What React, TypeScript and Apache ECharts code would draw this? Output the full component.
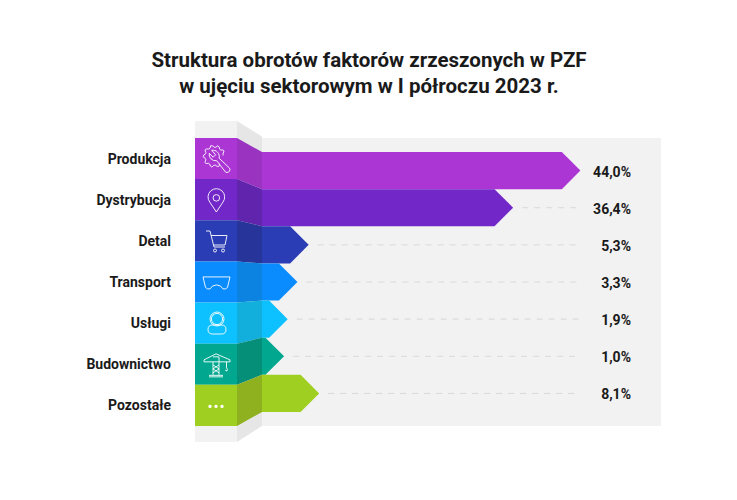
import React, { useEffect, useRef } from "react";
import * as echarts from "echarts";

const titleLines = ["Struktura obrotów faktorów zrzeszonych w PZF", "w ujęciu sektorowym w I półroczu 2023 r."];
const categories = ["Produkcja", "Dystrybucja", "Detal", "Transport", "Usługi", "Budownictwo", "Pozostałe"];
// Shares printed next to each arrow (per cent).
const shares = [44.0, 36.4, 5.3, 3.3, 1.9, 1.0, 8.1];
// The reference's arrows are not proportional to the printed shares: these are the
// arrow lengths, on a scale where the longest arrow is 44.
const drawnLengths = [44.0, 34.7, 6.45, 4.9, 3.55, 3.05, 7.9];
const cellColors = ["#ab36d3", "#7227c8", "#2b3db5", "#0a8cff", "#0dc0ff", "#01a88f", "#9fd021"];
const foldColors = ["#9a33c0", "#6125ad", "#27359a", "#0c83e0", "#12afdc", "#058e78", "#90b11f"];

const shareLabels = shares.map((v) => v.toFixed(1).replace(".", ",") + "%");

const FONT = "Roboto";
const COLUMN = { left: 195, width: 42, top: 137.95, height: 288 };
const BARS = { left: 262, width: 318.4, top: 152, height: 260 };
const LABEL_END = 631;

function gearPath() {
  const cx = 11, cy = 11, teeth = 8, parts: string[] = [];
  const pt = (a: number, r: number) => `${(cx + r * Math.cos(a)).toFixed(2)} ${(cy + r * Math.sin(a)).toFixed(2)}`;
  const start = (55 * Math.PI) / 180;
  const sweep = (300 * Math.PI) / 180;
  parts.push("M" + pt(start, 9.2));
  for (let i = 0; i < teeth; i++) {
    const a0 = start + (sweep * i) / teeth;
    const step = sweep / teeth;
    parts.push(`Q${pt(a0 + step * 0.25, 12.6)} ${pt(a0 + step * 0.5, 10.6)}`);
    parts.push(`Q${pt(a0 + step * 0.75, 8.4)} ${pt(a0 + step, 9.2)}`);
  }
  return parts.join(" ");
}

const circle = (x: number, y: number, r: number) =>
  `M${x - r} ${y} A${r} ${r} 0 1 0 ${x + r} ${y} A${r} ${r} 0 1 0 ${x - r} ${y} Z`;

// Decorative line icons: each path with the pixel box it is fitted into.
const icons = [
  {
    box: [203, 145, 27, 28],
    d:
      gearPath() +
      " M6 8 A6.5 6.5 0 0 0 13.5 15.5 L22.5 27 Q24 28 25.5 27 L26.5 26 Q27.5 24.5 26.5 23 L16 13 A6.5 6.5 0 0 0 8.5 5 L12.5 9.5 L10 12 Z",
  },
  {
    box: [207.7, 188.7, 17.3, 23.3],
    d: "M8.65 23.3 L1.8 13 A8.6 8.6 0 1 1 15.5 13 Z " + circle(8.65, 8.7, 3.4),
  },
  {
    box: [206, 231, 21, 21],
    d:
      "M0 0 H4 L8 16 H19 M5 4.5 H21 L19 14 H7.5 " +
      circle(9, 19.5, 1.5) +
      " " +
      circle(17, 19.5, 1.5),
  },
  {
    box: [203, 276.7, 27, 12.6],
    d: "M0 0 H27 L24.5 10.5 Q23 12.6 20 12 Q18 8 13.5 8 Q9 8 7 12 Q4 12.6 2.5 10.5 Z",
  },
  {
    box: [208, 312, 18, 22],
    d:
      circle(9, 7, 5.6) +
      " " +
      circle(9, 7, 7) +
      " M4.5 13 H13.5 Q18 13 18 17.5 Q18 22 13.5 22 H4.5 Q0 22 0 17.5 Q0 13 4.5 13 Z",
  },
  {
    box: [204, 353.7, 26, 23.3],
    d:
      "M0 6 L12 0 L26 6 V8 H0 Z M9 8 V21 M15 8 V21 M9 11 L15 15 M15 11 L9 15 M9 15 L15 19 M15 15 L9 19 M5 23 H19 M5 21.5 H19 M9 3 H15 V8 M22.5 8 V14 Q24 15 23 17 Q21.5 17.5 21.5 16",
  },
];
const moreDots = [-6, 0, 6];

function renderCell(_: any, api: any) {
  const i = api.value(1);
  const [x0, yc] = api.coord([0, i]);
  const [x1] = api.coord([1, i]);
  const h = api.size([0, 1])[1];
  const children: any[] = [
    { type: "rect", shape: { x: x0, y: yc - h / 2, width: x1 - x0, height: h }, style: { fill: cellColors[i] } },
  ];
  const icon = icons[i];
  if (icon) {
    children.push({
      type: "path",
      shape: { pathData: icon.d, x: icon.box[0], y: icon.box[1], width: icon.box[2], height: icon.box[3] },
      layout: "cover",
      style: { fill: "none", stroke: "#fff", lineWidth: 0.9 },
    });
  } else {
    moreDots.forEach((dx) =>
      children.push({
        type: "circle",
        shape: { cx: (x0 + x1) / 2 + dx, cy: yc + 1, r: 1.7 },
        style: { fill: "#fff" },
      })
    );
  }
  return { type: "group", children };
}

function renderArrow(_: any, api: any) {
  const i = api.value(1);
  const [x0, yc] = api.coord([0, i]);
  const [tip] = api.coord([api.value(0), i]);
  const [end] = api.coord([44, i]);
  const h = api.size([0, 1])[1];
  const top = yc - h / 2;
  const bottom = yc + h / 2;
  const shoulder = tip - h / 2;
  const rowH = COLUMN.height / categories.length;
  const cellTop = COLUMN.top + i * rowH;
  const foldLeft = COLUMN.left + COLUMN.width;
  const children: any[] = [
    {
      type: "polygon",
      shape: { points: [[foldLeft, cellTop], [x0, top], [x0, bottom], [foldLeft, cellTop + rowH]] },
      style: { fill: foldColors[i] },
    },
    {
      type: "polygon",
      shape: { points: [[x0, top], [shoulder, top], [tip, yc], [shoulder, bottom], [x0, bottom]] },
      style: { fill: cellColors[i] },
    },
    {
      type: "text",
      style: {
        x: LABEL_END,
        y: yc + 1,
        text: shareLabels[i],
        align: "right",
        verticalAlign: "middle",
        fontFamily: FONT,
        fontWeight: "bold",
        fontSize: 14,
        fill: "#1a1a1a",
      },
    },
  ];
  if (tip + 9 < end) {
    children.push({
      type: "line",
      shape: { x1: tip + 9, y1: yc, x2: end, y2: yc },
      style: { stroke: "#d9d9d9", lineWidth: 1, lineDash: [6, 6] },
    });
  }
  return { type: "group", children };
}

export default function App() {
  const ref = useRef<HTMLDivElement>(null);
  useEffect(() => {
    if (!ref.current) return;
    const chart = echarts.init(ref.current, undefined, { renderer: "svg" });
    const foldX = COLUMN.left + COLUMN.width;
    const barsBottom = BARS.top + BARS.height;
    chart.setOption({
      animation: false,
      backgroundColor: "#fff",
      graphic: [
        ...titleLines.map((line, i) => ({
          type: "text",
          z: 5,
          style: {
            x: 369,
            y: 60 + i * 26,
            text: line,
            align: "center",
            verticalAlign: "middle",
            fontFamily: FONT,
            fontWeight: "bold",
            fontSize: 20.5,
            fill: "#1a1a1a",
          },
        })),
        { type: "rect", z: 0, shape: { x: foldX + 25, y: 138, width: 399, height: 288 }, style: { fill: "#f2f2f2" } },
        { type: "rect", z: 0, shape: { x: COLUMN.left, y: 121, width: COLUMN.width, height: 321 }, style: { fill: "#f2f2f2" } },
        {
          type: "polygon",
          z: 0,
          shape: { points: [[foldX, 121], [BARS.left, 136.5], [BARS.left, barsBottom + 14], [foldX, 442]] },
          style: { fill: "#e6e6e6" },
        },
      ],
      grid: [
        { left: COLUMN.left, width: COLUMN.width, top: COLUMN.top, height: COLUMN.height, containLabel: false },
        { left: BARS.left, width: BARS.width, top: BARS.top, height: BARS.height, containLabel: false },
      ],
      xAxis: [
        { gridIndex: 0, type: "value", min: 0, max: 1, show: false },
        { gridIndex: 1, type: "value", min: 0, max: 44, show: false },
      ],
      yAxis: [
        {
          gridIndex: 0,
          type: "category",
          inverse: true,
          data: categories,
          axisLine: { show: false },
          axisTick: { show: false },
          axisLabel: { margin: 24, fontFamily: FONT, fontWeight: "bold", fontSize: 14, color: "#1a1a1a" },
        },
        {
          gridIndex: 1,
          type: "category",
          inverse: true,
          data: categories,
          show: false,
        },
      ],
      series: [
        {
          type: "custom",
          xAxisIndex: 0,
          yAxisIndex: 0,
          z: 2,
          clip: false,
          renderItem: renderCell,
          encode: { x: 0, y: 1 },
          data: categories.map((_, i) => [1, i]),
        },
        {
          type: "custom",
          xAxisIndex: 1,
          yAxisIndex: 1,
          z: 3,
          clip: false,
          renderItem: renderArrow,
          encode: { x: 0, y: 1 },
          data: drawnLengths.map((v, i) => [v, i]),
        },
      ],
    });
    return () => chart.dispose();
  }, []);
  return <div ref={ref} style={{ position: "absolute", left: 0, top: 0, width: 737, height: 500 }} />;
}
